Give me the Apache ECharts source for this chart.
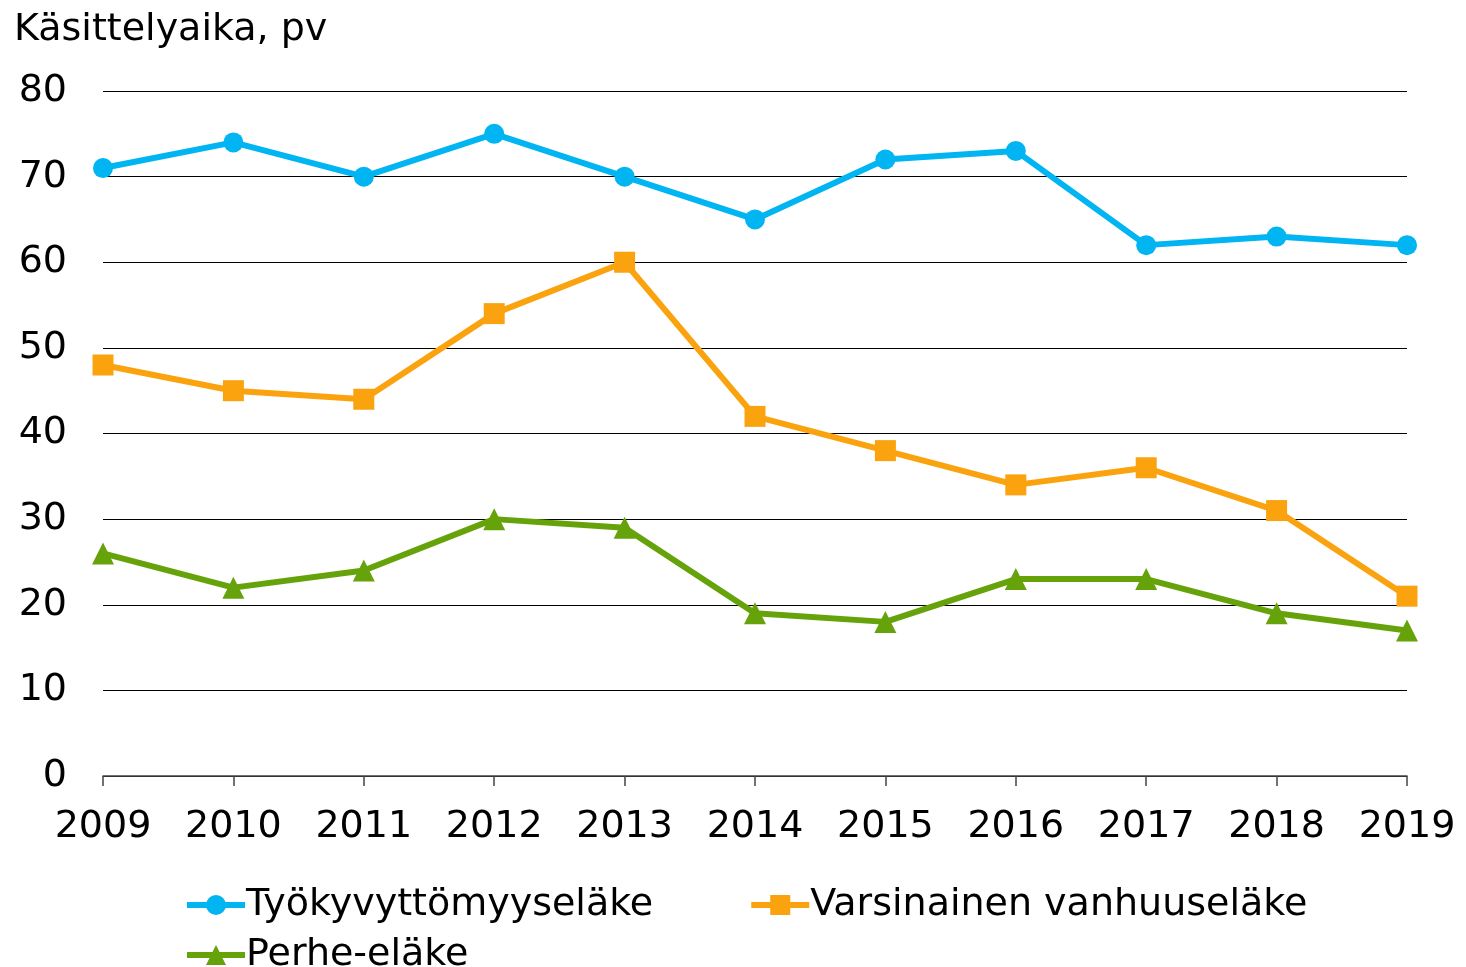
<!DOCTYPE html>
<html>
<head>
<meta charset="utf-8">
<script src="https://cdn.jsdelivr.net/npm/echarts@6/dist/echarts.min.js"></script>
<style>
html, body { margin: 0; padding: 0; background: #fff; }
#chart { width: 1466px; height: 967px; }
</style>
</head>
<body>
<div id="chart"></div>
<script>
// vuodet ja käsittelyajat (pv)
const years = ['2009', '2010', '2011', '2012', '2013', '2014', '2015', '2016', '2017', '2018', '2019']
const tyokyvyttomyys = [71, 74, 70, 75, 70, 65, 72, 73, 62, 63, 62]
const vanhuus = [48, 45, 44, 54, 60, 42, 38, 34, 36, 31, 21]
const perhe = [26, 22, 24, 30, 29, 19, 18, 23, 23, 19, 17]
const yTicks = [0, 10, 20, 30, 40, 50, 60, 70, 80]

const font = 'Verdana, "DejaVu Sans", sans-serif'
const fs = 38
const blue = '#00B5F1'
const orange = '#FAA30F'
const green = '#66A30B'

let myChart = echarts.init(document.getElementById('chart'))
let legendBase = {
  itemWidth: 58,
  itemHeight: 25,
  lineStyle: { width: 6 },
  textStyle: { fontFamily: font, fontSize: fs, color: '#000', padding: [0, 0, 0, -4] }
}
let option = {
  animation: false,
  textStyle: { fontFamily: font, color: '#000' },
  title: {
    text: 'Käsittelyaika, pv',
    left: 9,
    top: 6,
    textStyle: { fontFamily: font, fontSize: fs, fontWeight: 'normal', color: '#000' }
  },
  legend: [
    Object.assign({}, legendBase, {
      data: ['Työkyvyttömyyseläke', 'Varsinainen vanhuuseläke'],
      left: 179,
      top: 881,
      itemGap: 95
    }),
    Object.assign({}, legendBase, {
      data: ['Perhe-eläke'],
      left: 179,
      top: 931
    })
  ],
  grid: {
    left: 103,
    right: 59,
    top: 91,
    bottom: 191,
    containLabel: false
  },
  xAxis: {
    type: 'category',
    boundaryGap: false,
    data: years,
    axisLine: { lineStyle: { color: '#444', width: 1.5 } },
    axisTick: { alignWithLabel: true, length: 10, lineStyle: { color: '#444', width: 1.5 } },
    axisLabel: { fontFamily: font, fontSize: fs, color: '#000', margin: 32 },
    splitLine: { show: false }
  },
  yAxis: {
    type: 'value',
    min: yTicks[0],
    max: yTicks[yTicks.length - 1],
    interval: 10,
    axisLine: { show: false },
    axisTick: { show: false },
    axisLabel: { fontFamily: font, fontSize: fs, color: '#000', margin: 36 },
    splitLine: { lineStyle: { color: '#000', width: 1 } }
  },
  series: [
    {
      name: 'Työkyvyttömyyseläke',
      type: 'line',
      data: tyokyvyttomyys,
      symbol: 'circle',
      symbolSize: 20,
      itemStyle: { color: blue },
      lineStyle: { color: blue, width: 6 }
    },
    {
      name: 'Varsinainen vanhuuseläke',
      type: 'line',
      data: vanhuus,
      symbol: 'rect',
      symbolSize: 21,
      itemStyle: { color: orange },
      lineStyle: { color: orange, width: 6 }
    },
    {
      name: 'Perhe-eläke',
      type: 'line',
      data: perhe,
      symbol: 'triangle',
      symbolSize: 22,
      itemStyle: { color: green },
      lineStyle: { color: green, width: 6 }
    }
  ]
}
myChart.setOption(option)
</script>
</body>
</html>
